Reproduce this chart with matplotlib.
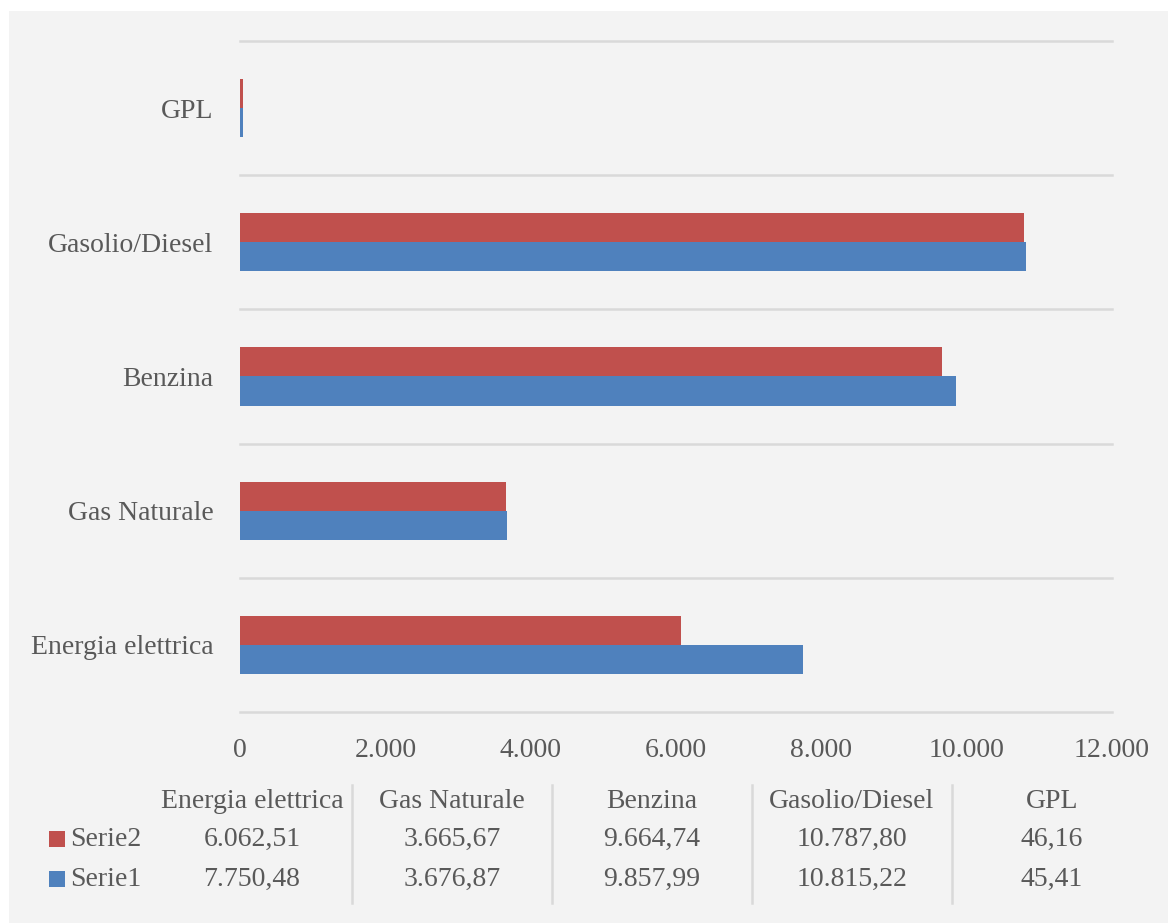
import matplotlib.pyplot as plt
from matplotlib.patches import Rectangle
from matplotlib.lines import Line2D
from matplotlib.ticker import FuncFormatter

categories = ['Energia elettrica', 'Gas Naturale', 'Benzina', 'Gasolio/Diesel', 'GPL']
serie1 = [7750.48, 3676.87, 9857.99, 10815.22, 45.41]
serie2 = [6062.51, 3665.67, 9664.74, 10787.80, 46.16]
xticks = [0, 2000, 4000, 6000, 8000, 10000, 12000]

W, H = 1168, 923
blue = '#4F81BD'
red = '#C0504D'
txt = '#595959'
grid = '#D9D9D9'
plt.rcParams['font.family'] = ['Liberation Serif', 'DejaVu Serif']


def fmt_it(v, dec=2):
    s = f'{v:,.{dec}f}'
    return s.replace(',', 'X').replace('.', ',').replace('X', '.')


fig = plt.figure(figsize=(W / 100, H / 100), dpi=100, facecolor='white')
fig.patches.append(Rectangle((9 / W, 0), 1 - 9 / W, 1 - 11 / H, transform=fig.transFigure,
                             facecolor='#F3F3F3', edgecolor='none', zorder=-10))

ax = fig.add_axes([240 / W, 1 - 712 / H, (1112 - 240) / W, (712 - 41) / H])
ax.set_facecolor('none')

h = 29 / 134
ys = list(range(len(categories)))
ax.barh([y - h / 2 for y in ys], serie1, height=h, color=blue, zorder=3)
ax.barh([y + h / 2 for y in ys], serie2, height=h, color=red, zorder=3)

ax.set_xlim(0, 12000)
ax.set_ylim(-0.5, len(categories) - 0.5)
for g in [y - 0.5 for y in range(len(categories) + 1)]:
    ax.axhline(g, color=grid, lw=1.8, zorder=1, clip_on=False)

ax.set_xticks(xticks)
ax.xaxis.set_major_formatter(FuncFormatter(lambda v, p: fmt_it(v, 0)))
ax.set_yticks(ys)
ax.set_yticklabels(categories)
ax.tick_params(axis='both', length=0, colors=txt, labelsize=20)
ax.tick_params(axis='x', pad=19)
ax.tick_params(axis='y', pad=19)
for s in ax.spines.values():
    s.set_visible(False)

# data table
col_centers = [252, 452, 652, 852, 1052]
row_y = [801, 839, 879]
for cx, cat in zip(col_centers, categories):
    fig.text(cx / W, 1 - row_y[0] / H, cat, ha='center', va='center', color=txt, fontsize=20)
for cx, v2, v1 in zip(col_centers, serie2, serie1):
    fig.text(cx / W, 1 - row_y[1] / H, fmt_it(v2), ha='center', va='center', color=txt, fontsize=20)
    fig.text(cx / W, 1 - row_y[2] / H, fmt_it(v1), ha='center', va='center', color=txt, fontsize=20)
for vx in [352, 552, 752, 952]:
    fig.lines.append(Line2D([vx / W, vx / W], [1 - 785 / H, 1 - 903 / H], transform=fig.transFigure,
                            color=grid, lw=1.8))
for ry, name, c in [(row_y[1], 'Serie2', red), (row_y[2], 'Serie1', blue)]:
    fig.patches.append(Rectangle((49 / W, 1 - (ry + 8) / H), 16 / W, 16 / H, transform=fig.transFigure,
                                 facecolor=c, edgecolor='none'))
    fig.text(70 / W, 1 - ry / H, name, ha='left', va='center', color=txt, fontsize=20)

fig.savefig('out.png', dpi=100, facecolor='white')
